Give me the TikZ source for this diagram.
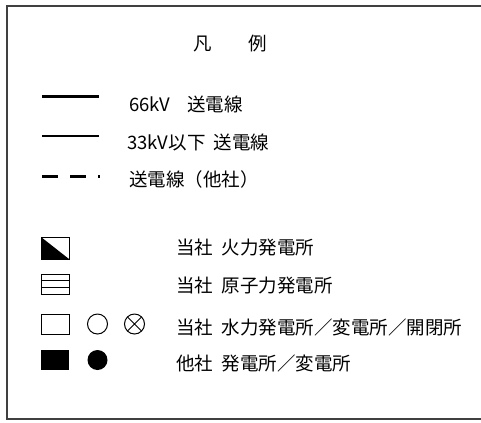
\documentclass[tikz,border=0pt]{standalone}
\usepackage{fontspec}
\setmainfont{Noto Sans CJK JP}
\usepackage{tikz}
\usetikzlibrary{positioning}
\newcommand{\jgap}{\hspace{0.45em}}
\tikzstyle{legtext} = [anchor=west, inner sep=0pt, font=\fontsize{18.5bp}{20bp}\selectfont]
\tikzstyle{frame} = [line width=1.6bp, black!75]
\tikzstyle{sym} = [line width=1bp]

\begin{document}
\begin{tikzpicture}[x=1bp, y=-1bp]
        \useasboundingbox (0,0) rectangle (481,422);
        % Frame (right side is cut off)
        \draw[frame] (490,6) -- (7,6) -- (7,419) -- (490,419);
        % Title
        \node[legtext, anchor=center] (title) at (230.5,44) {凡\hspace{36.5bp}例};
        % Lines
        \draw[line width=3bp] (42,96) -- (99,96);
        \node[legtext] (line66) at (129,104) {66kV\jgap\jgap 送電線};
        \draw[line width=1.5bp] (42,136) -- (99,136);
        \node[legtext] (line33) at (127,142) {33kV以下\jgap 送電線};
        \draw[line width=3bp, dash pattern=on 16bp off 12bp] (42,176) -- (100,176);
        \node[legtext] (lineother) at (129,179) {送電線（他社）};
        % Stations
        \draw[sym] (41,237) rectangle (69,259);
        \fill (41,237) -- (69,259) -- (41,259) -- cycle;
        \node[legtext] (fire) at (176,248) {当社\jgap 火力発電所};
        \draw[sym] (41,274) rectangle (69,294);
        \draw[sym] (41,280.7) -- (69,280.7) (41,287.3) -- (69,287.3);
        \node[legtext] (nuke) at (176,286) {当社\jgap 原子力発電所};
        \draw[sym] (41,314) rectangle (69,334);
        \draw[sym] (97.5,324) circle[radius=10];
        \draw[sym] (134.5,324) circle[radius=10];
        \draw[sym] (127.4,316.9) -- (141.6,331.1) (127.4,331.1) -- (141.6,316.9);
        \node[legtext] (hydro) at (176,327) {当社\jgap 水力発電所／変電所／開閉所};
        \fill (41,350) rectangle (69,370);
        \fill (97.5,360) circle[radius=10];
        \node[legtext] (other) at (176,363) {他社\jgap 発電所／変電所};
\end{tikzpicture}
\end{document}
